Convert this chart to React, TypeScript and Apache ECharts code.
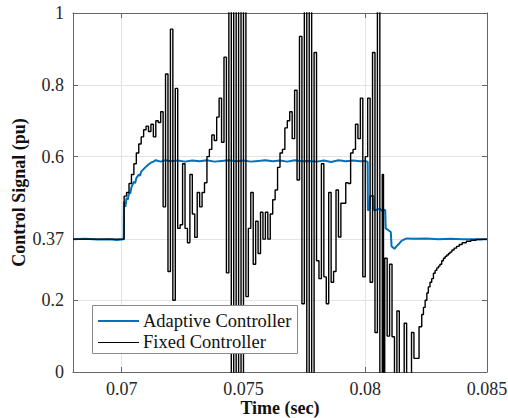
import React, { useEffect, useRef } from "react";
import * as echarts from "echarts";

const xTicks = [0.07, 0.075, 0.08, 0.085];
const yTicks = [0, 0.2, 0.37, 0.6, 0.8, 1];
const xLabels = ["0.07", "0.075", "0.08", "0.085"];
const yLabels = ["0", "0.2", "0.37", "0.6", "0.8", "1"];

const seriesNames = ["Adaptive Controller", "Fixed Controller"];
const seriesColors = ["#0072BD", "#000000"];

// Adaptive controller: [time (s), signal (pu)]
const adaptiveController: [number, number][] = [
  [0.068, 0.37], [0.0685, 0.371], [0.069, 0.369], [0.0695, 0.37], [0.0698, 0.368],
  [0.07008, 0.37], [0.07009, 0.475], [0.07015, 0.46], [0.0702, 0.485], [0.07025, 0.48],
  [0.0703, 0.5], [0.07035, 0.497], [0.0704, 0.515], [0.0705, 0.53], [0.07055, 0.526],
  [0.0706, 0.54], [0.0707, 0.55], [0.07075, 0.547], [0.0708, 0.558], [0.0709, 0.565],
  [0.071, 0.572], [0.0711, 0.578], [0.0712, 0.583], [0.0713, 0.586], [0.0714, 0.59],
  [0.0716, 0.586], [0.0718, 0.59], [0.072, 0.587], [0.0723, 0.589], [0.0726, 0.586],
  [0.0729, 0.589], [0.0732, 0.587], [0.0735, 0.59], [0.0738, 0.586], [0.0741, 0.588],
  [0.0744, 0.59], [0.0747, 0.587], [0.075, 0.589], [0.0753, 0.586], [0.0756, 0.588],
  [0.0759, 0.59], [0.0762, 0.587], [0.0765, 0.589], [0.0768, 0.586], [0.0771, 0.59],
  [0.0774, 0.587], [0.0777, 0.588], [0.078, 0.586], [0.0783, 0.589], [0.0786, 0.585],
  [0.0789, 0.59], [0.0792, 0.587], [0.0795, 0.589], [0.0798, 0.587], [0.08, 0.588],
  [0.0801, 0.585], [0.08011, 0.45], [0.08018, 0.455], [0.0802, 0.49], [0.08034, 0.49],
  [0.08036, 0.45], [0.0806, 0.455], [0.0807, 0.448], [0.08082, 0.452], [0.08084, 0.4],
  [0.08095, 0.395], [0.08105, 0.39], [0.08108, 0.35], [0.0812, 0.343], [0.08128, 0.35],
  [0.0814, 0.358], [0.0815, 0.366], [0.0817, 0.372], [0.082, 0.371], [0.0825, 0.372],
  [0.083, 0.37], [0.0835, 0.371], [0.084, 0.37], [0.085, 0.37],
];

// Fixed controller (sample-and-hold): [time (s), signal (pu)]
const fixedController: [number, number][] = [
  [0.068, 0.37], [0.0701, 0.49], [0.0702, 0.5], [0.0703, 0.525], [0.0704, 0.55],
  [0.0705, 0.58], [0.0706, 0.61], [0.0707, 0.635], [0.0708, 0.655], [0.0709, 0.675],
  [0.071, 0.685], [0.0711, 0.67], [0.0712, 0.69], [0.0713, 0.655], [0.0714, 0.7],
  [0.0715, 0.695], [0.0716, 0.725], [0.0717, 0.46], [0.0718, 0.83], [0.0719, 0.28],
  [0.072, 0.955], [0.0721, 0.2], [0.0722, 0.79], [0.0723, 0.4], [0.0724, 0.41],
  [0.0725, 0.58], [0.0726, 0.4], [0.0727, 0.36], [0.0728, 0.55], [0.0729, 0.44],
  [0.073, 0.375], [0.0731, 0.5], [0.0732, 0.46], [0.0733, 0.5], [0.0734, 0.527],
  [0.0735, 0.6], [0.0736, 0.62], [0.0737, 0.66], [0.0738, 0.645], [0.0739, 0.71],
  [0.074, 0.763], [0.0741, 0.64], [0.0742, 0.877], [0.0743, 0.276], [0.0744, 1.05],
  [0.0745, -0.05], [0.0746, 1.05], [0.0747, -0.05], [0.0748, 1.05], [0.0749, -0.05],
  [0.075, 1.05], [0.0751, 0.21], [0.0752, 0.4], [0.0753, 0.5], [0.0754, 0.3],
  [0.0755, 0.42], [0.0756, 0.33], [0.0757, 0.445], [0.0758, 0.37], [0.0759, 0.445],
  [0.076, 0.37], [0.0761, 0.44], [0.0762, 0.48], [0.0763, 0.507], [0.0764, 0.57],
  [0.0765, 0.61], [0.0766, 0.62], [0.0767, 0.68], [0.0768, 0.7], [0.0769, 0.725],
  [0.077, 0.65], [0.0771, 0.785], [0.0772, 0.535], [0.0773, 0.935], [0.0774, 0.19],
  [0.0775, 1.05], [0.0776, -0.05], [0.0777, 1.05], [0.0778, -0.05], [0.0779, 0.89],
  [0.078, 0.31], [0.0781, 0.26], [0.0782, 0.58], [0.0783, 0.265], [0.0784, 0.19],
  [0.0785, 0.5], [0.0786, 0.25], [0.0787, 0.28], [0.0788, 0.507], [0.0789, 0.376],
  [0.079, 0.47], [0.0791, 0.47], [0.0792, 0.527], [0.0793, 0.525], [0.0794, 0.61],
  [0.0795, 0.62], [0.0796, 0.69], [0.0797, 0.65], [0.0798, 0.763], [0.0799, 0.265],
  [0.08, 0.6], [0.0801, 0.763], [0.0802, 0.25], [0.0803, 0.89], [0.0804, 0.11],
  [0.0805, 1.05], [0.0806, -0.05], [0.0807, 0.55], [0.08075, -0.05], [0.0808, 0.317],
  [0.0809, 0.1], [0.081, 0.3], [0.0811, 0.098], [0.0812, -0.05], [0.0813, 0.17],
  [0.0814, -0.05], [0.0816, 0.136], [0.0817, -0.05], [0.0819, 0.11], [0.082, 0.038],
  [0.08221, 0.126], [0.08232, 0.16], [0.08239, 0.18], [0.08246, 0.2], [0.08253, 0.22],
  [0.08259, 0.237], [0.08266, 0.25], [0.08273, 0.26], [0.0828, 0.275], [0.08287, 0.283],
  [0.08294, 0.29], [0.08301, 0.295], [0.08307, 0.3], [0.08314, 0.31], [0.08321, 0.317],
  [0.08328, 0.322], [0.08335, 0.326], [0.08342, 0.33], [0.08348, 0.334], [0.08356, 0.34],
  [0.08365, 0.345], [0.08375, 0.35], [0.08386, 0.355], [0.08398, 0.36], [0.08415, 0.364],
  [0.08434, 0.367], [0.08455, 0.369], [0.08475, 0.37], [0.085, 0.37],
];

const FONT = "Liberation Serif";
const AXIS_COLOR = "#666";
const GRID_COLOR = "#e3e3e3";
const TEXT_COLOR = "#262626";

const nameText = { fontFamily: FONT, fontSize: 18, fontWeight: "bold", color: "#111" };

export default function App() {
  const ref = useRef<HTMLDivElement>(null);
  useEffect(() => {
    if (!ref.current) return;
    const chart = echarts.init(ref.current, undefined, { renderer: "svg" });
    const axisCommon = {
      type: "value",
      axisLine: { show: true, onZero: false, lineStyle: { color: AXIS_COLOR, width: 1 } },
      axisLabel: { show: false },
    };
    chart.setOption({
      animation: false,
      backgroundColor: "#fff",
      grid: { left: 73, top: 13, right: 21, bottom: 46, containLabel: false, outerBoundsMode: "none" },
      xAxis: [
        {
          ...axisCommon,
          min: 0.068,
          max: 0.085,
          position: "bottom",
          name: "Time (sec)",
          nameLocation: "middle",
          nameGap: 27,
          nameTextStyle: nameText,
          axisTick: { show: true, inside: true, length: 5, customValues: xTicks, lineStyle: { color: AXIS_COLOR } },
          splitLine: { show: true, lineStyle: { color: GRID_COLOR, width: 1 } },
        },
        {
          ...axisCommon,
          min: 0.068,
          max: 0.085,
          position: "top",
          axisTick: { show: true, inside: true, length: 5, customValues: xTicks, lineStyle: { color: AXIS_COLOR } },
          splitLine: { show: false },
        },
      ],
      yAxis: [
        {
          ...axisCommon,
          min: 0,
          max: 1,
          position: "left",
          name: "Control Signal (pu)",
          nameLocation: "middle",
          nameGap: 45,
          nameTextStyle: nameText,
          axisTick: { show: true, inside: true, length: 5, customValues: yTicks, lineStyle: { color: AXIS_COLOR } },
          splitLine: { show: true, lineStyle: { color: GRID_COLOR, width: 1 } },
        },
        {
          ...axisCommon,
          min: 0,
          max: 1,
          position: "right",
          axisTick: { show: true, inside: true, length: 5, customValues: yTicks, lineStyle: { color: AXIS_COLOR } },
          splitLine: { show: false },
        },
      ],
      series: [
        {
          name: seriesNames[0],
          type: "line",
          xAxisIndex: 0,
          yAxisIndex: 0,
          data: adaptiveController,
          symbol: "none",
          showSymbol: false,
          clip: true,
          lineStyle: { color: seriesColors[0], width: 2 },
          itemStyle: { color: seriesColors[0] },
          z: 2,
        },
        {
          name: seriesNames[1],
          type: "line",
          xAxisIndex: 0,
          yAxisIndex: 0,
          data: fixedController,
          step: "end",
          symbol: "none",
          showSymbol: false,
          clip: true,
          lineStyle: { color: seriesColors[1], width: 1.4 },
          itemStyle: { color: seriesColors[1] },
          z: 3,
        },
      ],
    });

    // Tick labels, positioned through the axes' own scales
    const x0 = chart.convertToPixel({ xAxisIndex: 0 }, 0.068) as number;
    const y0 = chart.convertToPixel({ yAxisIndex: 0 }, 0) as number;
    const graphics: any[] = [];
    xTicks.forEach((v, i) => {
      const px = chart.convertToPixel({ xAxisIndex: 0 }, v) as number;
      graphics.push({
        type: "text",
        x: px,
        y: y0 + 8,
        z: 20,
        style: {
          text: xLabels[i],
          fontFamily: FONT,
          fontSize: 18,
          fontWeight: 500,
          fontStyle: "normal",
          fill: TEXT_COLOR,
          align: "center",
          verticalAlign: "top",
        },
      });
    });
    yTicks.forEach((v, i) => {
      const py = chart.convertToPixel({ yAxisIndex: 0 }, v) as number;
      graphics.push({
        type: "text",
        x: x0 - 9,
        y: py,
        z: 20,
        style: {
          text: yLabels[i],
          fontFamily: FONT,
          fontSize: 18,
          fontWeight: 500,
          fontStyle: "normal",
          fill: TEXT_COLOR,
          align: "right",
          verticalAlign: "middle",
        },
      });
    });

    // Legend box
    const lgX = 92;
    const lgY = 305;
    graphics.push({
      type: "rect",
      z: 30,
      shape: { x: lgX + 0.5, y: lgY + 0.5, width: 205, height: 48 },
      style: { fill: "#fff", stroke: "#888", lineWidth: 1 },
    });
    seriesNames.forEach((name, i) => {
      const cy = lgY + 16 + i * 21;
      graphics.push({
        type: "line",
        z: 31,
        shape: { x1: lgX + 6, y1: cy + (i === 0 ? 0 : 0.5), x2: lgX + 47, y2: cy + (i === 0 ? 0 : 0.5) },
        style: { stroke: seriesColors[i], lineWidth: i === 0 ? 2 : 1 },
      });
      graphics.push({
        type: "text",
        z: 31,
        x: lgX + 51,
        y: cy,
        style: {
          text: name,
          fontFamily: FONT,
          fontSize: 18.5,
          fontWeight: 500,
          fontStyle: "normal",
          fill: "#111",
          align: "left",
          verticalAlign: "middle",
        },
      });
    });
    chart.setOption({ graphic: graphics });

    return () => chart.dispose();
  }, []);
  return (
    <div
      ref={ref}
      style={{ position: "fixed", left: 0, top: 0, width: 508, height: 418, background: "#fff" }}
    />
  );
}
